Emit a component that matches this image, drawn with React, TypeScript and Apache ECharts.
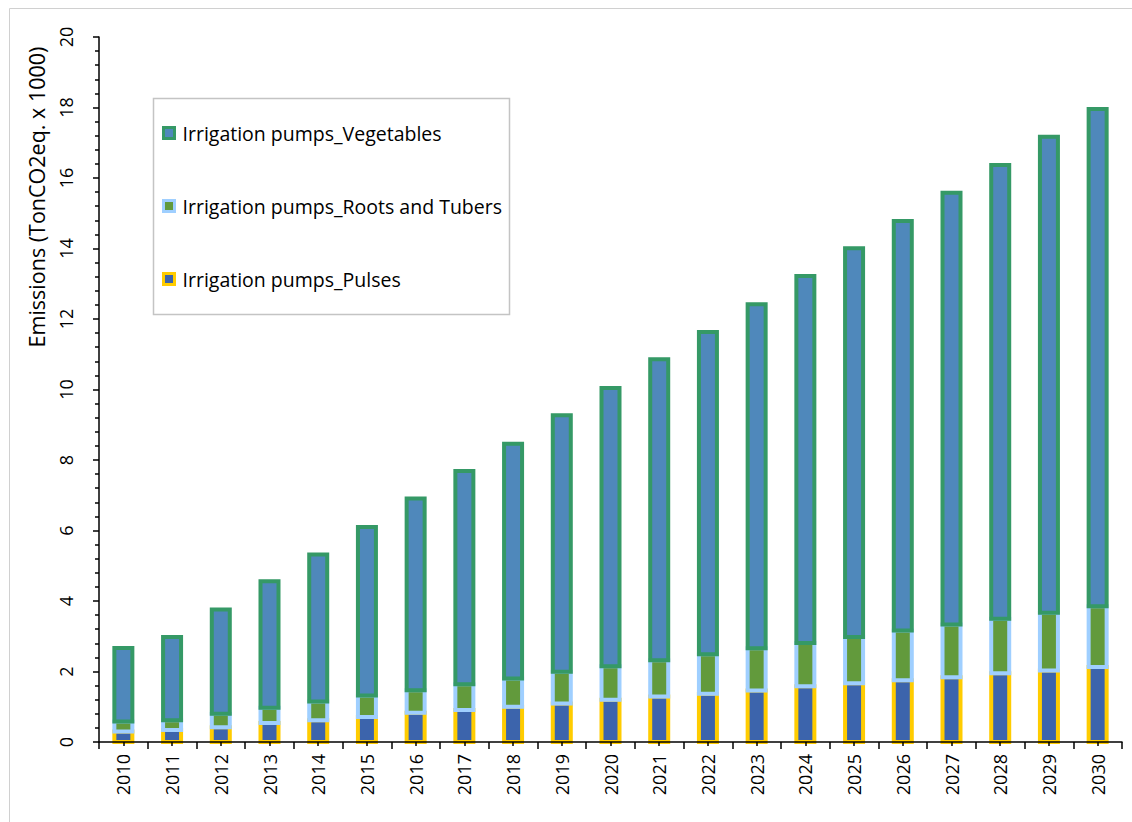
import React, { useEffect, useRef } from "react";
import * as echarts from "echarts";

// Categories and series values (TonCO2eq. x 1000)
const years = [
  "2010", "2011", "2012", "2013", "2014", "2015", "2016", "2017", "2018", "2019", "2020",
  "2021", "2022", "2023", "2024", "2025", "2026", "2027", "2028", "2029", "2030",
];
const pulses = [
  0.3, 0.34, 0.42, 0.54, 0.62, 0.71, 0.83, 0.91, 1.0, 1.09, 1.2,
  1.29, 1.37, 1.46, 1.58, 1.67, 1.75, 1.84, 1.95, 2.03, 2.13,
];
const rootsAndTubers = [
  0.28, 0.28, 0.38, 0.43, 0.53, 0.61, 0.64, 0.73, 0.8, 0.9, 0.95,
  1.03, 1.12, 1.2, 1.23, 1.31, 1.41, 1.49, 1.55, 1.64, 1.72,
];
const vegetables = [
  2.09, 2.36, 2.96, 3.59, 4.17, 4.78, 5.44, 6.05, 6.66, 7.28, 7.89,
  8.54, 9.14, 9.76, 10.41, 11.03, 11.62, 12.25, 12.87, 13.5, 14.11,
];
const seriesNames = [
  "Irrigation pumps_Pulses",
  "Irrigation pumps_Roots and Tubers",
  "Irrigation pumps_Vegetables",
];
const yAxisTitle = "Emissions (TonCO2eq. x 1000)";

const FONT = "Open Sans";

// fill / outline per stacked layer, bottom to top
const layerStyles = [
  { fill: "#3C64AC", stroke: "#FFCC00" },
  { fill: "#629A3C", stroke: "#9FCFFF" },
  { fill: "#4F88BB", stroke: "#359966" },
];

const BAR_WIDTH = 18; // rect width; the 4px outline is centred on its edges
const OUTLINE = 4;

export default function App() {
  const ref = useRef<HTMLDivElement>(null);

  useEffect(() => {
    if (!ref.current) return;
    const chart = echarts.init(ref.current, null, { renderer: "svg" });

    const grid = { left: 99, right: 10, top: 37, bottom: 80 };
    const gridHeight = 822 - grid.top - grid.bottom;

    // Stack the layers: each item carries [categoryIndex, base, top]
    const layers = [pulses, rootsAndTubers, vegetables];
    const running = years.map(() => 0);
    const stacked = layers.map((values) =>
      values.map((v, i) => {
        const base = running[i];
        running[i] = base + v;
        return [i, base, base + v];
      })
    );

    const makeSeries = (k: number) => ({
      name: seriesNames[k],
      type: "custom",
      data: stacked[k],
      encode: { x: 0, y: [1, 2] },
      itemStyle: {
        color: layerStyles[k].fill,
        borderColor: layerStyles[k].stroke,
        borderWidth: OUTLINE,
      },
      renderItem: (params: any, api: any) => {
        const idx = api.value(0);
        const lo = api.coord([idx, api.value(1)]);
        const hi = api.coord([idx, api.value(2)]);
        return {
          type: "rect",
          shape: {
            x: lo[0] - BAR_WIDTH / 2,
            y: hi[1],
            width: BAR_WIDTH,
            height: lo[1] - hi[1],
          },
          style: {
            fill: layerStyles[k].fill,
            stroke: layerStyles[k].stroke,
            lineWidth: OUTLINE,
          },
        };
      },
    });

    chart.setOption({
      animation: false,
      backgroundColor: "#ffffff",
      textStyle: { fontFamily: FONT },
      grid,
      legend: {
        orient: "vertical",
        left: 162,
        top: 122,
        padding: 0,
        itemGap: 51,
        itemWidth: 11,
        itemHeight: 11,
        icon: "rect",
        selectedMode: false,
        data: [2, 1, 0].map((k) => ({
          name: seriesNames[k],
          itemStyle: {
            color: layerStyles[k].fill,
            borderColor: layerStyles[k].stroke,
            borderWidth: 3,
          },
        })),
        textStyle: {
          fontFamily: FONT,
          fontSize: 19.5,
          color: "#000",
          lineHeight: 22,
          padding: [0, 0, 0, 3],
        },
      },
      xAxis: [
        {
          type: "category",
          data: years,
          z: 5,
          axisLine: { lineStyle: { color: "#000", width: 1.5 } },
          axisTick: { show: true, length: 7, lineStyle: { color: "#000", width: 1.5 } },
          axisLabel: {
            rotate: 90,
            interval: 0,
            margin: 12,
            color: "#000",
            fontFamily: FONT,
            fontSize: 18,
          },
          splitLine: { show: false },
        },
        {
          // short marks at the category centres
          type: "category",
          data: years,
          position: "top",
          offset: -gridHeight,
          z: 5,
          axisLine: { show: false },
          axisTick: {
            show: true,
            inside: true,
            alignWithLabel: true,
            length: 4,
            lineStyle: { color: "#000", width: 1.5 },
          },
          axisLabel: { show: false },
          splitLine: { show: false },
        },
      ],
      yAxis: {
        type: "value",
        min: 0,
        max: 20,
        interval: 2,
        z: 5,
        axisLine: { show: true, lineStyle: { color: "#000", width: 1.5 } },
        axisTick: { show: true, length: 6, lineStyle: { color: "#000", width: 1.5 } },
        minorTick: { show: true, splitNumber: 5, length: 4, lineStyle: { color: "#000", width: 1.5 } },
        splitLine: { show: false },
        axisLabel: {
          rotate: 90,
          margin: 24,
          color: "#000",
          fontFamily: FONT,
          fontSize: 18,
        },
      },
      series: [makeSeries(0), makeSeries(1), makeSeries(2)],
      graphic: [
        {
          type: "rect",
          z: -10,
          shape: { x: 9.5, y: 8.5, width: 1140, height: 830 },
          style: { fill: "none", stroke: "#D0D0D0", lineWidth: 1 },
        },
        {
          type: "rect",
          z: -5,
          shape: { x: 153.5, y: 98.5, width: 356, height: 216 },
          style: { fill: "#ffffff", stroke: "#C4C4C4", lineWidth: 1.5 },
        },
        {
          type: "text",
          x: 36,
          y: 197,
          rotation: Math.PI / 2,
          style: {
            text: yAxisTitle,
            fontFamily: FONT,
            fontSize: 21.5,
            fill: "#000",
            textAlign: "center",
            textVerticalAlign: "middle",
          },
        },
      ],
    });

    return () => chart.dispose();
  }, []);

  return (
    <div
      ref={ref}
      style={{ position: "fixed", left: 0, top: 0, width: 1132, height: 822 }}
    />
  );
}
